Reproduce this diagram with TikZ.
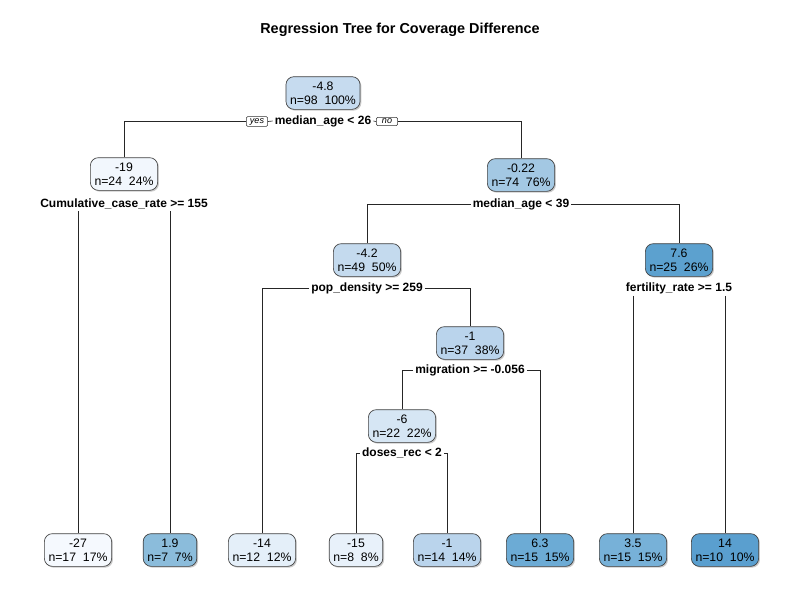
\documentclass[tikz,border=0pt]{standalone}
\usepackage{fontspec}
\setmainfont{Liberation Sans}
\usetikzlibrary{shadows}
\definecolor{c27}{HTML}{F5F9FE}
\definecolor{c19}{HTML}{F2F7FD}
\definecolor{c15}{HTML}{E8F1FA}
\definecolor{c14}{HTML}{E4EFF9}
\definecolor{c6}{HTML}{D6E6F4}
\definecolor{c48}{HTML}{C6DBEF}
\definecolor{c42}{HTML}{C4DAEE}
\definecolor{c1}{HTML}{BAD4EC}
\definecolor{c022}{HTML}{A3C8E3}
\definecolor{c19p}{HTML}{8BBCDB}
\definecolor{c35}{HTML}{77B1D8}
\definecolor{c63}{HTML}{6CABD5}
\definecolor{c76}{HTML}{5CA1CF}
\definecolor{c140}{HTML}{5A9FCF}
\tikzset{
  tn/.style={draw=black!75, line width=0.5pt, rounded corners=6pt, align=center,
    font=\fontsize{9.2}{10.5}\selectfont, minimum height=24.5pt, inner xsep=3.1pt, inner ysep=1pt,
    drop shadow={shadow xshift=1pt, shadow yshift=-1pt, opacity=0.35, fill=black!60}},
  sl/.style={fill=white, font=\bfseries\fontsize{9}{10.5}\selectfont, inner sep=1.5pt},
  yn/.style={draw=black!80, line width=0.4pt, rounded corners=1pt, fill=white,
    font=\itshape\fontsize{6.8}{7}\selectfont, inner xsep=2pt, inner ysep=1.2pt, minimum width=16pt},
  br/.style={draw=black!85, line width=0.5pt},
  x=0.75pt, y=-0.75pt
}
\begin{document}
\begin{tikzpicture}
\useasboundingbox (0,0) rectangle (800,600);
\node[font=\bfseries\fontsize{10.8}{12}\selectfont] (title) at (400,30) {Regression Tree for Coverage Difference};

% internal nodes
\node[tn, fill=c48] (n1) at (323,93) {-4.8\\n=98\ \ 100\%};
\node[tn, fill=c19] (n2) at (124,174) {-19\\n=24\ \ 24\%};
\node[tn, fill=c022] (n3) at (521,175) {-0.22\\n=74\ \ 76\%};
\node[tn, fill=c42] (n6) at (367,260) {-4.2\\n=49\ \ 50\%};
\node[tn, fill=c76] (n7) at (679,260) {7.6\\n=25\ \ 26\%};
\node[tn, fill=c1] (n13) at (470,343) {-1\\n=37\ \ 38\%};
\node[tn, fill=c6] (n26) at (402,426) {-6\\n=22\ \ 22\%};

% leaves
\node[tn, fill=c27] (l1) at (78,550) {-27\\n=17\ \ 17\%};
\node[tn, fill=c19p] (l2) at (170,550) {1.9\\n=7\ \ 7\%};
\node[tn, fill=c14] (l3) at (262,550) {-14\\n=12\ \ 12\%};
\node[tn, fill=c15] (l4) at (356,550) {-15\\n=8\ \ 8\%};
\node[tn, fill=c1] (l5) at (447,550) {-1\\n=14\ \ 14\%};
\node[tn, fill=c63] (l6) at (540,550) {6.3\\n=15\ \ 15\%};
\node[tn, fill=c35] (l7) at (633,550) {3.5\\n=15\ \ 15\%};
\node[tn, fill=c140] (l8) at (725,550) {14\\n=10\ \ 10\%};

% split labels
\node[sl] (s1) at (323,121) {median\_age < 26};
\node[yn] (yes) at (257,121.5) {yes};
\node[yn] (no) at (387,121.5) {no};
\node[sl] (s2) at (124,204) {Cumulative\_case\_rate >= 155};
\node[sl] (s3) at (521,204) {median\_age < 39};
\node[sl] (s6) at (367,288) {pop\_density >= 259};
\node[sl] (s7) at (679,288) {fertility\_rate >= 1.5};
\node[sl] (s13) at (470,370) {migration >= -0.056};
\node[sl] (s26) at (402,453) {doses\_rec < 2};

% branches
\draw[br] (n2.north) |- (yes.west);
\draw[br] (yes.east) -- (s1.west);
\draw[br] (s1.east) -- (no.west);
\draw[br] (no.east) -| (n3.north);

\draw[br] (l1.north |- s2.south) -- (l1.north);
\draw[br] (l2.north |- s2.south) -- (l2.north);

\draw[br] (s3.west) -| (n6.north);
\draw[br] (s3.east) -| (n7.north);

\draw[br] (s6.west) -| (l3.north);
\draw[br] (s6.east) -| (n13.north);

\draw[br] (l7.north |- s7.south) -- (l7.north);
\draw[br] (l8.north |- s7.south) -- (l8.north);

\draw[br] (s13.west) -| (n26.north);
\draw[br] (s13.east) -| (l6.north);

\draw[br] (s26.west) -| (l4.north);
\draw[br] (s26.east) -| (l5.north);
\end{tikzpicture}
\end{document}
